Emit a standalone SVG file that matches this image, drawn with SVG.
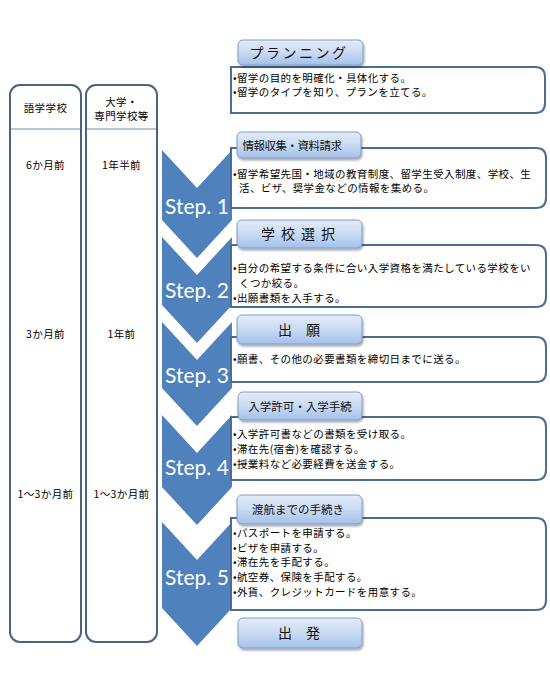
<svg xmlns="http://www.w3.org/2000/svg" width="550" height="681" viewBox="0 0 550 681">
<defs>
<linearGradient id="tabg" x1="0" y1="0" x2="0" y2="1">
<stop offset="0" stop-color="#e3ecf8"/>
<stop offset="0.5" stop-color="#c9daf2"/>
<stop offset="1" stop-color="#a3c0ea"/>
</linearGradient>
<filter id="sh" x="-10%" y="-20%" width="125%" height="160%">
<feGaussianBlur in="SourceAlpha" stdDeviation="1.2"/>
<feOffset dx="1" dy="2" result="b"/>
<feComponentTransfer><feFuncA type="linear" slope="0.35"/></feComponentTransfer>
<feMerge><feMergeNode/><feMergeNode in="SourceGraphic"/></feMerge>
</filter>
</defs>
<style>
.col{fill:#fff;stroke:#4a6480;stroke-width:2}
.div{stroke:#6a8cb0;stroke-width:1}
.ct{font-family:"Noto Sans CJK JP","Noto Sans CJK SC",sans-serif;font-size:10.5px;letter-spacing:0.4px;fill:#000}
.cc{text-anchor:middle}
.chev{fill:#4f81bd}
.st{font-family:Lato,"Open Sans",sans-serif;font-size:21px;fill:#fff;text-anchor:middle}
.box{fill:#fff;stroke:#4b6d8f;stroke-width:2}
.tab{fill:url(#tabg);stroke:#7c9cc9;stroke-width:1}
.tt{font-family:"Noto Sans CJK JP","Noto Sans CJK SC",sans-serif;font-size:11.5px;fill:#111;text-anchor:middle}
.tb{font-size:14px}
</style>
<rect width="550" height="681" fill="#fff"/>

<g id="col-lang">
<rect class="col" x="10" y="85" width="71" height="557" rx="10"/>
<line class="div" x1="11" y1="129" x2="80" y2="129"/>
<text class="ct cc" x="45.5" y="112">語学学校</text>
<text class="ct cc" x="45.5" y="169">6か月前</text>
<text class="ct cc" x="45.5" y="338">3か月前</text>
<text class="ct cc" x="45.5" y="498">1～3か月前</text>
</g>
<g id="col-univ">
<rect class="col" x="86" y="85" width="71" height="557" rx="10"/>
<line class="div" x1="87" y1="129" x2="156" y2="129"/>
<text class="ct cc" x="121.5" y="106">大学・</text>
<text class="ct cc" x="121.5" y="120">専門学校等</text>
<text class="ct cc" x="121.5" y="169">1年半前</text>
<text class="ct cc" x="121.5" y="338">1年前</text>
<text class="ct cc" x="121.5" y="498">1～3か月前</text>
</g>

<g id="chevrons">
<g id="step1"><path class="chev" d="M162,150 L197,188 L232,150 L232,220 L197,258 L162,220 Z"/><text class="st" x="197" y="214">Step. 1</text></g>
<g id="step2"><path class="chev" d="M162,237 L197,275 L232,237 L232,305 L197,343 L162,305 Z"/><text class="st" x="197" y="298">Step. 2</text></g>
<g id="step3"><path class="chev" d="M162,322 L197,360 L232,322 L232,388 L197,426 L162,388 Z"/><text class="st" x="197" y="383">Step. 3</text></g>
<g id="step4"><path class="chev" d="M162,415 L197,453 L232,415 L232,487 L197,525 L162,487 Z"/><text class="st" x="197" y="475">Step. 4</text></g>
<g id="step5"><path class="chev" d="M162,522 L197,560 L232,522 L232,608 L197,646 L162,608 Z"/><text class="st" x="197" y="585">Step. 5</text></g>
</g>

<g id="connectors"></g>

<g id="planning">
<path class="box" d="M231,67 H535 Q545,67 545,77 V103 Q545,113 535,113 H231 Z"/>
<rect class="tab" x="238" y="40" width="125" height="25" rx="5" filter="url(#sh)"/>
<text class="tt tb" x="299" y="58" letter-spacing="2.5">プランニング</text>
<text class="ct" x="233" y="82">•留学の目的を明確化・具体化する。</text>
<text class="ct" x="233" y="96">•留学のタイプを知り、プランを立てる。</text>
</g>

<g id="info">
<path class="box" d="M231,148 H536 Q546,148 546,158 V198 Q546,208 536,208 H231 Z"/>
<rect class="tab" x="237" y="132" width="124" height="26" rx="5" filter="url(#sh)"/>
<text class="tt" x="292" y="150" letter-spacing="-0.5">情報収集・資料請求</text>
<text class="ct" x="233" y="178">•留学希望先国・地域の教育制度、留学生受入制度、学校、生</text>
<text class="ct" x="239" y="192">活、ビザ、奨学金などの情報を集める。</text>
</g>

<g id="select">
<path class="box" d="M231,245 H536 Q546,245 546,255 V297 Q546,307 536,307 H231 Z"/>
<rect class="tab" x="237" y="220" width="125" height="28" rx="5" filter="url(#sh)"/>
<text class="tt tb" x="301" y="239" letter-spacing="6">学校選択</text>
<text class="ct" x="233" y="272">•自分の希望する条件に合い入学資格を満たしている学校をい</text>
<text class="ct" x="239" y="287">くつか絞る。</text>
<text class="ct" x="233" y="302">•出願書類を入手する。</text>
</g>

<g id="apply">
<path class="box" d="M231,337 H536 Q546,337 546,347 V372 Q546,382 536,382 H231 Z"/>
<rect class="tab" x="237" y="315" width="125" height="29" rx="5" filter="url(#sh)"/>
<text class="tt tb" x="299" y="335">出　願</text>
<text class="ct" x="233" y="363">•願書、その他の必要書類を締切日までに送る。</text>
</g>

<g id="admit">
<path class="box" d="M231,417 H536 Q546,417 546,427 V470 Q546,480 536,480 H231 Z"/>
<rect class="tab" x="238" y="392" width="124" height="28" rx="5" filter="url(#sh)"/>
<text class="tt" x="300" y="411">入学許可・入学手続</text>
<text class="ct" x="233" y="438">•入学許可書などの書類を受け取る。</text>
<text class="ct" x="233" y="453">•滞在先(宿舎)を確認する。</text>
<text class="ct" x="233" y="468">•授業料など必要経費を送金する。</text>
</g>

<g id="travel">
<path class="box" d="M231,518 H536 Q546,518 546,528 V600 Q546,610 536,610 H231 Z"/>
<rect class="tab" x="237" y="495" width="125" height="29" rx="5" filter="url(#sh)"/>
<text class="tt" x="298" y="514">渡航までの手続き</text>
<text class="ct" x="233" y="537">•パスポートを申請する。</text>
<text class="ct" x="233" y="552">•ビザを申請する。</text>
<text class="ct" x="233" y="566">•滞在先を手配する。</text>
<text class="ct" x="233" y="581">•航空券、保険を手配する。</text>
<text class="ct" x="233" y="596">•外貨、クレジットカードを用意する。</text>
</g>

<g id="depart">
<rect class="tab" x="238" y="618" width="124" height="30" rx="5" filter="url(#sh)"/>
<text class="tt tb" x="299" y="638">出　発</text>
</g>
</svg>
